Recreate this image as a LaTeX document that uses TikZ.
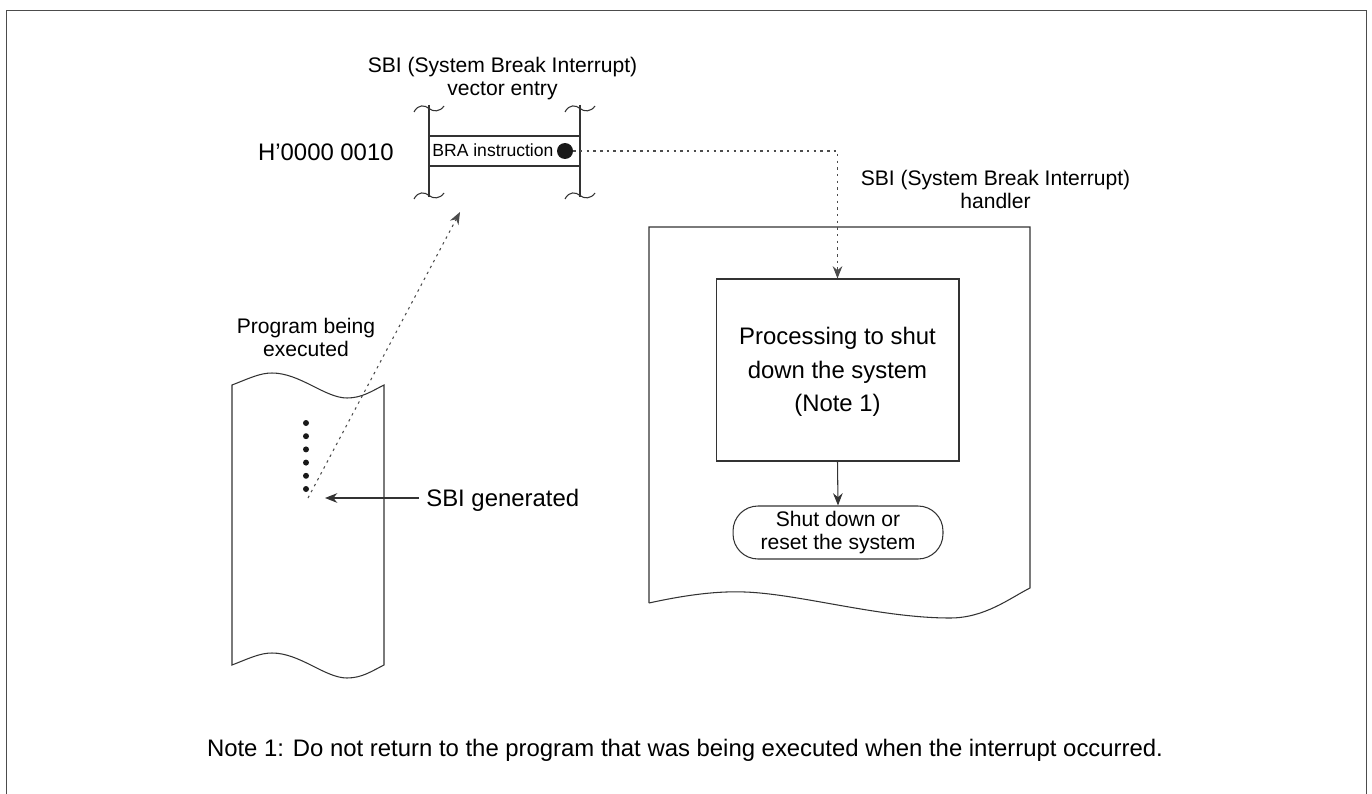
\documentclass[tikz,border=0pt]{standalone}
\usepackage{fontspec}
\setmainfont{Liberation Sans}
\usetikzlibrary{arrows.meta}
\begin{document}
\begin{tikzpicture}[x=0.02cm,y=-0.02cm,
  ln/.style={draw=black!80,line width=0.6pt},
  dotln/.style={draw=black!70,line width=0.6pt,dash pattern=on 1.4pt off 2.4pt},
  arr/.style={-{Stealth[length=7pt,width=5.5pt]}},
  lbl/.style={font=\fontsize{12}{13.1}\selectfont,align=center,inner sep=0pt},
  bigtxt/.style={font=\fontsize{13.6}{19}\selectfont,align=center,inner sep=0pt},
  termbox/.style={ln,rounded corners=0.5cm,minimum width=4.2cm,minimum height=1.06cm,inner sep=0pt,align=center,font=\fontsize{12}{13}\selectfont},
  procbox/.style={ln,minimum width=4.86cm,minimum height=3.64cm,inner sep=0pt},
  bigdot/.style={circle,fill=black!90,minimum size=0.32cm,inner sep=0pt},
  smalldot/.style={circle,fill=black!90,minimum size=0.12cm,inner sep=0pt}]
\useasboundingbox (0,0) rectangle (1372,794);
% frame
\draw[draw=black!70,line width=0.75pt] (6.5,794) -- (6.5,10.5) -- (1366.5,10.5) -- (1366.5,794);

% ---- vector entry ----
\node[lbl] (veclbl) at (502.5,79) {SBI (System Break Interrupt)\\vector entry};
\draw[ln] (429,105) -- (429,197);
\draw[ln] (580,105) -- (580,197);
\foreach \cx/\cy in {429/108,580/108,429/195,580/195}{
  \draw[ln] (\cx-15,\cy+4) .. controls (\cx-11,\cy-4) and (\cx-4,\cy-3) .. (\cx,\cy+0.5)
            .. controls (\cx+4,\cy+4) and (\cx+11,\cy+4) .. (\cx+15,\cy-2);
}
\node[ln,minimum width=3.02cm,minimum height=0.6cm,inner sep=0pt] (bra) at (504.5,151) {};
\node[anchor=base west,inner sep=0pt,font=\fontsize{10}{12}\selectfont] (bratxt) at (432,156.7) {BRA instruction};
\node[bigdot] (dot) at (565,151) {};
\node[anchor=base east,inner sep=0pt,font=\fontsize{13.6}{15}\selectfont] (addr) at (394,160) {H'0000 0010};

% ---- handler ----
\node[lbl] (hlbl) at (995.5,189) {SBI (System Break Interrupt)\\handler};
\draw[ln] (649,603) -- (649,227) -- (1030,227) -- (1030,588)
  .. controls (1010,598) and (985,618) .. (950,618)
  .. controls (880,618) and (800,594) .. (745,592)
  .. controls (720,591) and (690,594) .. (649,603);
\node[procbox] (proc) at (837.5,370) {};
\node[bigtxt] (proctxt) at (837.5,372) {Processing to shut\\down the system\\(Note 1)};
\node[termbox] (term) at (838,532.5) {Shut down or\\reset the system};
\draw[ln,arr] (proc.south) -- (term.north);
\draw[dotln,arr] (dot.east) -| (proc.north);

% ---- program being executed ----
\node[lbl] (plbl) at (306,337) {Program being\\executed};
\draw[ln] (232,385) .. controls (250,378) and (260,373) .. (272,373)
  .. controls (300,373) and (325,398) .. (347,398)
  .. controls (362,398) and (372,391) .. (384,385)
  -- (384,665)
  .. controls (372,671) and (362,678) .. (347,678)
  .. controls (325,678) and (300,653) .. (272,653)
  .. controls (260,653) and (250,658) .. (232,665) -- cycle;
\foreach \k in {0,...,5}{
  \node[smalldot] (d\k) at (306,423+13.2*\k) {};
}
\coordinate (sbi) at (308,498);
\coordinate (vtgt) at (460,212);
\draw[dotln,arr] (sbi) -- (vtgt);
\node[anchor=base west,inner sep=0pt,font=\fontsize{13.6}{15}\selectfont] (gen) at (426,506.6) {SBI generated};
\coordinate (genl) at (419,498);
\coordinate (gentip) at (325,498);
\draw[ln,arr] (genl) -- (gentip);

% ---- note ----
\node[inner sep=0pt,font=\fontsize{13.6}{15}\selectfont] (note) at (685,750) {Note 1: Do not return to the program that was being executed when the interrupt occurred.};
\end{tikzpicture}
\end{document}
